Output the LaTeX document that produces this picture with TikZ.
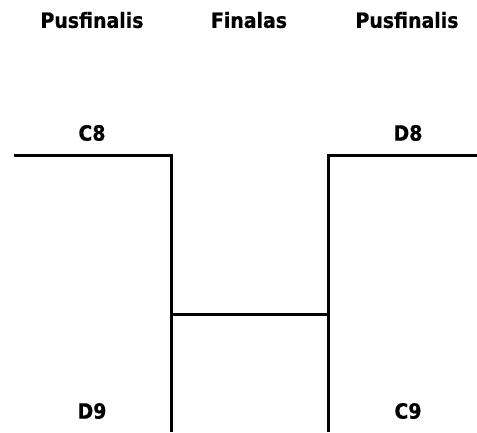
\documentclass[tikz,border=0pt]{standalone}
\usepackage{fontspec}
\setmainfont{DejaVu Sans}[FakeStretch=0.9, BoldFeatures={FakeBold=0.6}]
\usepackage{xcolor}

\tikzset{
  lbl/.style={font=\bfseries\fontsize{21}{23}\selectfont, inner sep=0pt},
  bracket/.style={line width=3pt}
}

\begin{document}
\begin{tikzpicture}[x=1pt,y=1pt]
\useasboundingbox (0,0) rectangle (477,432) ;

\node[lbl] (pusA) at (92,412) {Pusfinalis} ;
\node[lbl] (fin) at (249,412) {Finalas} ;
\node[lbl] (pusB) at (407,412) {Pusfinalis} ;

\node[lbl] (c8) at (92,299) {C8} ;
\node[lbl] (d8) at (408,299) {D8} ;
\node[lbl] (d9) at (92,21) {D9} ;
\node[lbl] (c9) at (408,21) {C9} ;

\coordinate (c8a) at (14,276) ;
\coordinate (c8b) at (171,276) ;
\coordinate (d9b) at (171,0) ;
\coordinate (d8a) at (477,276) ;
\coordinate (d8b) at (328,276) ;
\coordinate (c9b) at (328,0) ;
\coordinate (m1) at (171,118) ;
\coordinate (m2) at (328,118) ;

\draw[bracket] (c8a) -- (c8b) -- (d9b) ;
\draw[bracket] (d8a) -- (d8b) -- (c9b) ;
\draw[bracket] (m1) -- (m2) ;

\end{tikzpicture}
\end{document}
